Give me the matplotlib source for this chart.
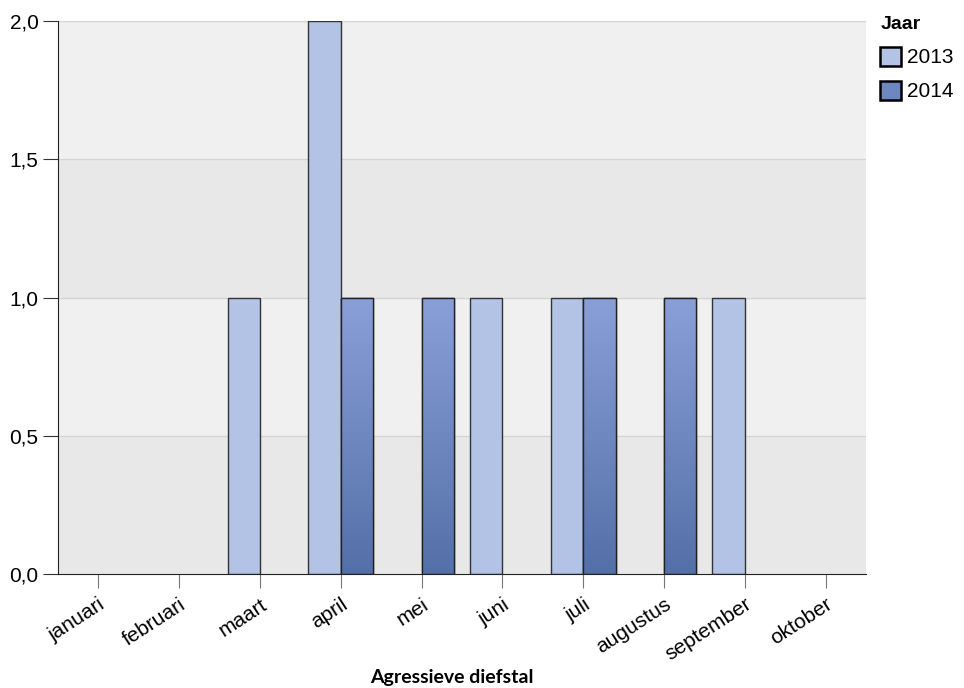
import numpy as np
import matplotlib.pyplot as plt
from matplotlib.colors import LinearSegmentedColormap
from matplotlib.patches import Patch

months = ['januari', 'februari', 'maart', 'april', 'mei', 'juni',
          'juli', 'augustus', 'september', 'oktober']
vals_2013 = [0, 0, 1, 2, 0, 1, 1, 0, 1, 0]
vals_2014 = [0, 0, 0, 1, 1, 0, 1, 1, 0, 0]

plt.rcParams['font.family'] = ['Liberation Sans', 'DejaVu Sans']

fig = plt.figure(figsize=(9.64, 6.88), dpi=100)
ax = fig.add_axes([58 / 964, 1 - 574 / 688, 808 / 964, 553 / 688])

x = np.arange(len(months))

# alternating background bands
for i, lo in enumerate([0, 0.5, 1.0, 1.5]):
    ax.axhspan(lo, lo + 0.5, color='#e8e8e8' if i % 2 == 0 else '#f0f0f0', zorder=0, lw=0)
for yv in [0.5, 1.0, 1.5, 2.0]:
    ax.axhline(yv, color='#d4d4d4', lw=1, zorder=0.5)

w = 0.4
c2013 = '#b3c3e6'
grad = LinearSegmentedColormap.from_list('g', ['#5470a8', '#8a9fd8'])

bars13 = ax.bar(x - w / 2, vals_2013, width=w, color=c2013, edgecolor='#333333', lw=1, zorder=2)
bars14 = ax.bar(x + w / 2, vals_2014, width=w, color='#6e86c2', edgecolor='#222222', lw=1, zorder=2)
for b in list(bars13) + list(bars14):
    if b.get_height() <= 0:
        b.set_visible(False)

g = np.linspace(0, 1, 256).reshape(-1, 1)
for b in bars14:
    h = b.get_height()
    if h <= 0:
        continue
    x0 = b.get_x()
    im = ax.imshow(g, cmap=grad, origin='lower', aspect='auto',
                   extent=[x0, x0 + b.get_width(), 0, h], zorder=2.1)
    im.set_clip_path(b)
    ax.bar(x0, h, width=b.get_width(), align='edge', facecolor='none',
           edgecolor='#222222', lw=1, zorder=2.2)

ax.set_xlim(-0.5, len(months) - 0.5)
ax.set_ylim(0, 2)

ax.set_xticks(x)
ax.set_xticklabels(months, rotation=33, ha='right', rotation_mode='anchor', fontsize=15)
ax.set_yticks([0, 0.5, 1.0, 1.5, 2.0])
ax.set_yticklabels(['0,0', '0,5', '1,0', '1,5', '2,0'], fontsize=15)
ax.tick_params(axis='x', length=10, color='#777777', pad=5)
ax.tick_params(axis='y', length=11, color='#333333', pad=3)

for s in ['top', 'right']:
    ax.spines[s].set_visible(False)
ax.spines['left'].set_color('#222222')
ax.spines['bottom'].set_color('#222222')

ax.set_xlabel('Agressieve diefstal', fontsize=14, fontweight='bold', family='Lato')
ax.xaxis.label.set_va('center')
ax.xaxis.set_label_coords(0.488, -104 / 553)

handles = [Patch(facecolor=c2013, edgecolor='black', lw=1.8),
           Patch(facecolor='#6e86c2', edgecolor='black', lw=1.8)]
leg = fig.legend(handles, ['2013', '2014'], title='Jaar', loc='upper left',
                 bbox_to_anchor=(872 / 964, 1 - 8 / 688), frameon=False, fontsize=15,
                 handlelength=1.0, handleheight=1.0, handletextpad=0.3, labelspacing=0.65,
                 alignment='left', borderaxespad=0)
leg.get_title().set_fontweight('bold')
leg.get_title().set_fontsize(14)

fig.savefig('out.png', dpi=100)
